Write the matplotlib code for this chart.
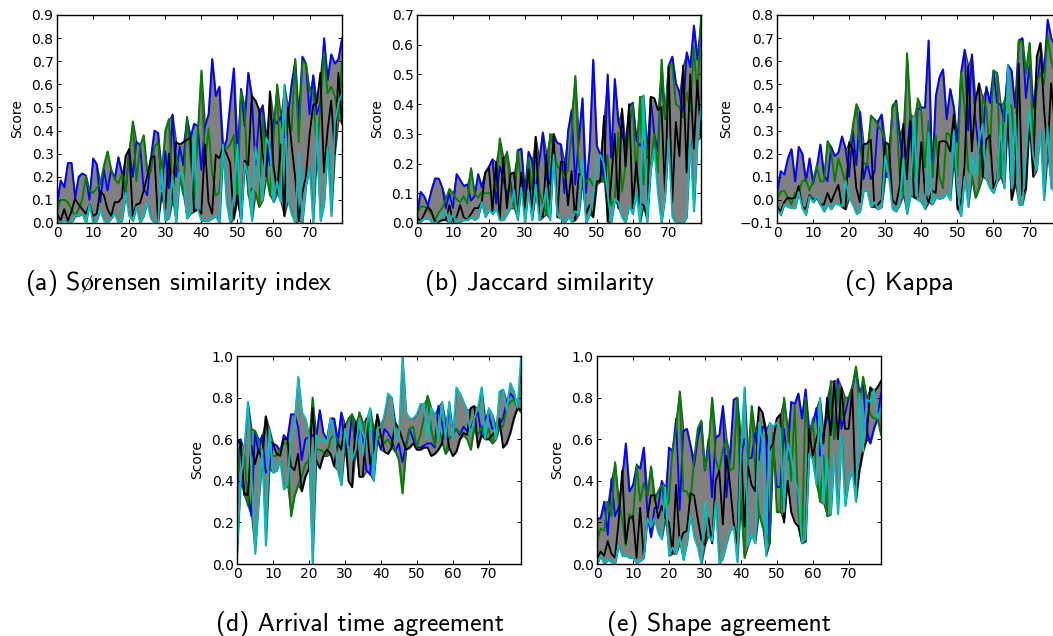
import matplotlib
matplotlib.use("Agg")
import matplotlib.pyplot as plt
import numpy as np

plt.rcParams["mathtext.fontset"] = "cm"

x = list(range(80))

# (a) Sorensen
a_blue = [.08,.185,.155,.26,.26,.11,.20,.215,.205,.10,
          .28,.255,.09,.23,.14,.23,.195,.285,.215,.12,
          .32,.20,.35,.34,.15,.12,.28,.40,.39,.15,
          .31,.15,.47,.20,.33,.25,.45,.37,.43,.42,
          .23,.42,.47,.71,.55,.59,.30,.36,.52,.67,
          .25,.58,.42,.65,.55,.25,.45,.51,.35,.25,
          .45,.43,.46,.37,.45,.60,.70,.45,.72,.69,
          .47,.64,.47,.52,.80,.62,.73,.69,.71,.80]
a_green = [.05,.10,.10,.09,.06,.03,.06,.10,.20,.14,
           .13,.15,.17,.25,.31,.23,.19,.17,.21,.13,
           .30,.44,.18,.33,.38,.22,.22,.33,.35,.20,
           .40,.45,.12,.30,.20,.12,.46,.28,.10,.38,
           .66,.25,.41,.22,.12,.13,.33,.32,.34,.38,
           .10,.57,.50,.12,.15,.13,.07,.47,.22,.12,
           .35,.60,.15,.45,.42,.40,.71,.35,.70,.69,
           .57,.57,.30,.50,.74,.56,.59,.55,.45,.70]
a_black = [.04,.01,.06,.01,.05,.105,.08,.06,.04,.08,
           .03,.04,.14,.12,.06,.03,.09,.09,.11,.29,
           .32,.03,.08,.085,.14,.20,.28,.29,.01,.13,
           .06,.30,.10,.35,.34,.35,.36,.37,.05,.06,
           .04,.34,.09,.04,.295,.28,.33,.30,.26,.02,
           .12,.01,.27,.25,.55,.53,.49,.30,.20,.57,
           .25,.13,.34,.03,.50,.34,.20,.01,.13,.20,
           .38,.51,.52,.65,.22,.40,.53,.30,.65,.43]
a_cyan = [.0,.005,.01,.0,.0,.035,.03,.04,.0,.08,
          .0,.01,.06,.01,.0,.02,.04,.0,.01,.13,
          .03,.01,.07,.0,.03,.09,.02,.0,.0,.23,
          .01,.02,.21,.0,.22,.21,.02,.04,.40,.06,
          .01,.01,.01,.02,.03,.0,.34,.09,.0,.12,
          .34,.0,.26,.20,.01,.33,.22,.10,.37,.33,
          .09,.18,.09,.60,.10,.04,.0,.30,.0,.16,
          .24,.0,.44,.01,.08,.33,.03,.43,.52,.56]

# (b) Jaccard
b_blue = [.03,.105,.09,.06,.11,.15,.15,.12,.05,.10,
          .05,.165,.145,.125,.13,.075,.09,.165,.12,.17,
          .19,.215,.065,.19,.15,.09,.14,.05,.245,.25,
          .10,.24,.21,.10,.21,.305,.15,.13,.29,.27,
          .265,.10,.31,.38,.13,.28,.42,.10,.25,.55,
          .26,.23,.14,.50,.22,.485,.34,.30,.26,.39,
          .405,.28,.26,.275,.22,.42,.30,.24,.50,.35,
          .53,.56,.47,.44,.36,.575,.525,.665,.55,.67]
b_green = [.03,.055,.055,.05,.03,.01,.035,.05,.08,.115,
           .10,.08,.07,.09,.065,.185,.10,.085,.105,.10,
           .10,.105,.12,.285,.17,.24,.11,.05,.245,.13,
           .06,.22,.11,.29,.11,.06,.03,.30,.25,.19,
           .18,.15,.18,.30,.495,.19,.14,.14,.15,.125,
           .13,.15,.14,.23,.06,.08,.305,.105,.19,.31,
           .40,.14,.425,.13,.25,.18,.30,.17,.55,.35,
           .53,.53,.40,.39,.355,.44,.375,.59,.42,.70]
b_black = [.02,.005,.03,.055,.04,.005,.005,.01,.01,.06,
           .01,.02,.06,.02,.01,.03,.05,.05,.07,.17,
           .185,.04,.205,.01,.22,.05,.165,.17,.02,.17,
           .05,.18,.02,.29,.03,.02,.23,.02,.30,.02,
           .205,.205,.06,.175,.01,.165,.16,.03,.06,.02,
           .14,.14,.36,.005,.14,.30,.05,.385,.19,.40,
           .05,.205,.065,.06,.02,.425,.42,.38,.39,.10,
           .525,.07,.34,.225,.53,.17,.50,.25,.48,.29]
b_cyan = [.0,.005,.015,.015,.005,.0,.01,.03,.04,.0,
          .03,.0,.005,.01,.01,.02,.01,.02,.07,.02,
          .045,.03,.05,.01,.01,.03,.05,.11,.01,.12,
          .0,.11,.01,.13,.01,.055,.12,.01,.23,.03,
          .015,.0,.02,.005,.04,.03,.21,.0,.03,.10,
          .20,.23,.20,.10,.0,.08,.07,.02,.0,.06,
          .03,.10,.0,.43,.0,.18,.25,.10,.0,.09,
          .285,.02,.0,.0,.0,.02,.28,.04,.28,.39]

# (c) Kappa
c_blue = [.03,.125,.11,.18,.22,.08,.23,.20,.08,.18,
          .07,.14,.24,.11,.08,.23,.19,.205,.275,.22,
          .10,.30,.15,.38,.09,.16,.09,.12,.34,.37,
          .10,.13,.40,.43,.28,.15,.20,.37,.12,.39,
          .40,.40,.69,.10,.45,.53,.565,.35,.48,.40,
          .25,.55,.65,.30,.63,.35,.20,.25,.49,.42,
          .56,.42,.41,.34,.585,.56,.40,.69,.70,.44,
          .58,.40,.48,.62,.55,.78,.70,.67,.60,.55]
c_green = [.0,.035,.04,.01,-.02,.03,.03,.08,.09,.04,
           .08,.15,.08,.08,.255,.21,.08,.18,.13,.07,
           .20,.32,.415,.22,.16,.15,.365,.35,.32,.30,
           .25,.10,.41,.42,.10,.02,.635,.35,.10,.44,
           .38,.14,.34,.10,.28,.10,.05,.29,.28,.17,
           .10,.55,.40,.13,.10,.01,.05,.44,.40,.20,
           .56,.55,.10,.43,.40,.41,.20,.69,.68,.55,
           .68,.25,.50,.55,.50,.71,.60,.55,.45,.40]
c_black = [-.03,-.05,-.01,.01,.005,.01,.06,-.03,-.04,.02,
           .0,.01,-.02,-.02,.03,-.01,.03,.065,-.03,-.04,
           .25,.22,.05,-.01,.24,.245,.26,-.03,-.02,.0,
           .25,.24,.0,-.02,.06,.33,.09,.34,.01,.01,
           .25,.03,-.01,.04,.03,.25,.255,.25,.21,.37,
           -.04,-.02,.15,.58,.21,.43,.505,.10,.26,.28,
           .05,.09,.30,.09,.37,.0,.07,.59,.02,.05,
           .35,.10,.62,.68,.40,.20,.505,.32,.30,.25]
c_cyan = [-.04,-.065,-.02,-.03,-.035,-.035,.035,-.035,-.065,.015,
          -.01,.015,-.02,-.05,-.02,-.04,-.015,-.02,-.03,.085,
          .01,-.02,-.06,-.05,.04,.04,-.03,-.01,-.04,-.03,
          .19,.10,-.04,-.05,-.02,.18,-.06,.02,.36,.0,
          -.01,-.04,.29,-.02,.01,.005,.01,.03,.0,.30,
          .05,-.07,.10,-.03,.20,.10,.25,.33,.09,.05,
          .03,.08,.33,.05,.585,.05,.37,-.02,-.02,.20,
          .39,.19,.13,.30,.0,.32,.05,.04,.30,.10]

# (d) Arrival time
d_blue = [.35,.60,.33,.35,.23,.64,.53,.62,.44,.46,
          .58,.57,.54,.62,.60,.72,.72,.66,.50,.60,
          .61,.62,.60,.74,.63,.60,.70,.70,.58,.73,
          .56,.55,.72,.55,.65,.60,.45,.43,.65,.60,
          .55,.65,.63,.60,.54,.58,.49,.57,.65,.60,
          .56,.56,.57,.58,.58,.56,.76,.68,.60,.75,
          .63,.65,.62,.66,.64,.65,.70,.73,.62,.70,
          .72,.65,.66,.67,.70,.78,.82,.80,.75,.73]
d_green = [.40,.55,.55,.28,.65,.64,.60,.50,.71,.53,
           .52,.52,.55,.58,.58,.23,.33,.38,.42,.48,
           .50,.80,.55,.55,.54,.52,.60,.62,.60,.55,
           .65,.70,.72,.55,.73,.68,.60,.70,.65,.60,
           .62,.58,.60,.57,.55,.50,.34,.55,.65,.66,
           .56,.62,.70,.81,.65,.57,.65,.60,.53,.60,
           .62,.65,.63,.62,.60,.55,.66,.62,.66,.60,
           .65,.58,.65,.66,.66,.75,.78,.79,.75,.73]
d_black = [.60,.58,.34,.33,.57,.48,.55,.50,.71,.59,
           .58,.53,.52,.60,.60,.47,.45,.53,.35,.42,
           .46,.75,.50,.46,.52,.55,.53,.47,.58,.55,
           .67,.40,.37,.68,.42,.42,.70,.48,.55,.72,
           .62,.54,.53,.56,.68,.65,.60,.55,.56,.58,
           .55,.55,.56,.56,.52,.53,.55,.58,.68,.56,
           .52,.54,.60,.63,.62,.75,.76,.56,.62,.60,
           .60,.62,.64,.70,.56,.58,.63,.70,.75,.74]
d_cyan = [.05,.40,.55,.78,.45,.05,.30,.55,.09,.65,
          .44,.45,.50,.36,.38,.60,.66,.90,.73,.70,
          .62,.0,.62,.59,.60,.58,.70,.63,.45,.38,
          .65,.55,.50,.55,.70,.52,.67,.75,.40,.65,
          .66,.72,.82,.80,.60,.60,1.0,.73,.70,.70,
          .72,.77,.77,.60,.75,.72,.60,.78,.60,.78,
          .60,.85,.82,.78,.74,.62,.70,.75,.85,.60,
          .75,.72,.60,.83,.84,.74,.87,.83,.75,1.0]

# (e) Shape
e_blue = [.22,.22,.30,.14,.41,.23,.27,.40,.58,.35,
          .38,.47,.46,.56,.25,.13,.27,.27,.40,.24,
          .56,.54,.70,.26,.64,.65,.57,.47,.60,.68,
          .45,.60,.32,.61,.62,.76,.32,.52,.79,.80,
          .50,.60,.51,.51,.63,.50,.66,.65,.10,.56,
          .37,.37,.65,.50,.78,.77,.82,.70,.84,.60,
          .66,.75,.52,.63,.70,.85,.60,.89,.65,.72,
          .80,.85,.93,.82,.86,.65,.58,.65,.70,.82]
e_green = [.11,.17,.16,.30,.23,.49,.30,.22,.09,.24,
           .21,.48,.30,.39,.33,.47,.30,.35,.38,.27,
           .30,.55,.65,.83,.35,.35,.30,.50,.65,.69,
           .45,.55,.80,.50,.45,.55,.60,.45,.46,.80,
           .30,.03,.50,.76,.45,.25,.18,.15,.10,.63,
           .25,.25,.80,.65,.40,.76,.25,.10,.80,.55,
           .70,.45,.30,.52,.23,.88,.60,.86,.70,.80,
           .80,.85,.95,.76,.90,.80,.72,.70,.70,.62]
e_black = [.02,.06,.04,.11,.05,.03,.20,.45,.10,.22,
           .23,.03,.27,.03,.22,.33,.33,.22,.28,.22,
           .20,.05,.38,.10,.15,.16,.34,.33,.22,.12,
           .09,.22,.10,.40,.45,.19,.52,.38,.20,.10,
           .60,.18,.47,.38,.35,.755,.73,.63,.55,.58,
           .70,.72,.20,.40,.25,.20,.18,.10,.11,.65,
           .52,.60,.66,.58,.80,.62,.88,.60,.85,.65,
           .65,.84,.31,.45,.55,.60,.85,.82,.85,.88]
e_cyan = [.0,.04,.0,.02,.01,.0,.09,.04,.04,.03,
          .03,.005,.015,.03,.22,.18,.22,.15,.12,.37,
          .04,.08,.05,.13,.02,.10,.24,.13,.08,.0,
          .30,.14,.11,.30,.0,.03,.10,.16,.18,.01,
          .53,.85,.09,.14,.10,.68,.60,.04,.68,.66,
          .68,.65,.25,.58,.52,.40,.35,.10,.12,.53,
          .50,.38,.80,.29,.51,.24,.53,.24,.62,.28,
          .40,.45,.30,.82,.54,.79,.78,.84,.70,.75]

captions = ["(a) Sørensen similarity index", "(b) Jaccard similarity", "(c) Kappa",
            "(d) Arrival time agreement", "(e) Shape agreement"]
caption_x = [179, 539, 899, 360, 719]
caption_y = [283, 283, 283, 624, 624]
ylims = [(0, .9), (0, .7), (-.1, .8), (0, 1), (0, 1)]
yticks = [np.arange(0, .91, .1), np.arange(0, .71, .1), np.arange(-.1, .81, .1),
          np.arange(0, 1.01, .2), np.arange(0, 1.01, .2)]
# left, top, right, bottom in pixels
boxes = [(57, 15, 342, 223), (417, 15, 701, 223), (777, 15, 1062, 223),
         (237, 356, 521, 564), (597, 356, 881, 564)]
series = [(a_blue, a_green, a_black, a_cyan), (b_blue, b_green, b_black, b_cyan),
          (c_blue, c_green, c_black, c_cyan), (d_blue, d_green, d_black, d_cyan),
          (e_blue, e_green, e_black, e_cyan)]
colors = ["#0000ff", "#007f00", "#000000", "#00bfbf"]

W, H = 1053, 636
fig = plt.figure(figsize=(W / 100, H / 100), dpi=100)

for i in range(5):
    l, t, r, b = boxes[i]
    ax = fig.add_axes([l / W, 1 - b / H, (r - l) / W, (b - t) / H])
    vals = np.array(series[i])
    ax.fill_between(x, vals.min(axis=0), vals.max(axis=0), facecolor="#808080",
                    edgecolor="#404040", linewidth=1.0)
    for v, c in zip(series[i], colors):
        ax.plot(x, v, color=c, linewidth=1.3)
    ax.set_xlim(0, 79)
    ax.set_ylim(*ylims[i])
    ax.set_xticks(range(0, 71, 10))
    ax.set_yticks(yticks[i])
    ax.set_yticklabels(["%.1f" % round(v, 1) if v >= -0.01 else "\u2212%.1f" % abs(v) for v in yticks[i]])
    ax.tick_params(direction="in", top=True, right=True, length=3, width=0.7, labelsize=10, pad=2.5)
    ax.set_ylabel("Score", fontsize=10, labelpad=5)
    for s in ax.spines.values():
        s.set_linewidth(1.0)
    # cmss10 draws a capital for the small o-slash, so that one sign goes through mathtext
    fig.text(caption_x[i] / W, 1 - caption_y[i] / H, captions[i].replace("ø", r"$\mathsf{\o}$"),
             ha="center", va="center", fontsize=18.5, family=["cmss10", "DejaVu Sans"])

plt.savefig("out.png", dpi=100)
plt.close()
